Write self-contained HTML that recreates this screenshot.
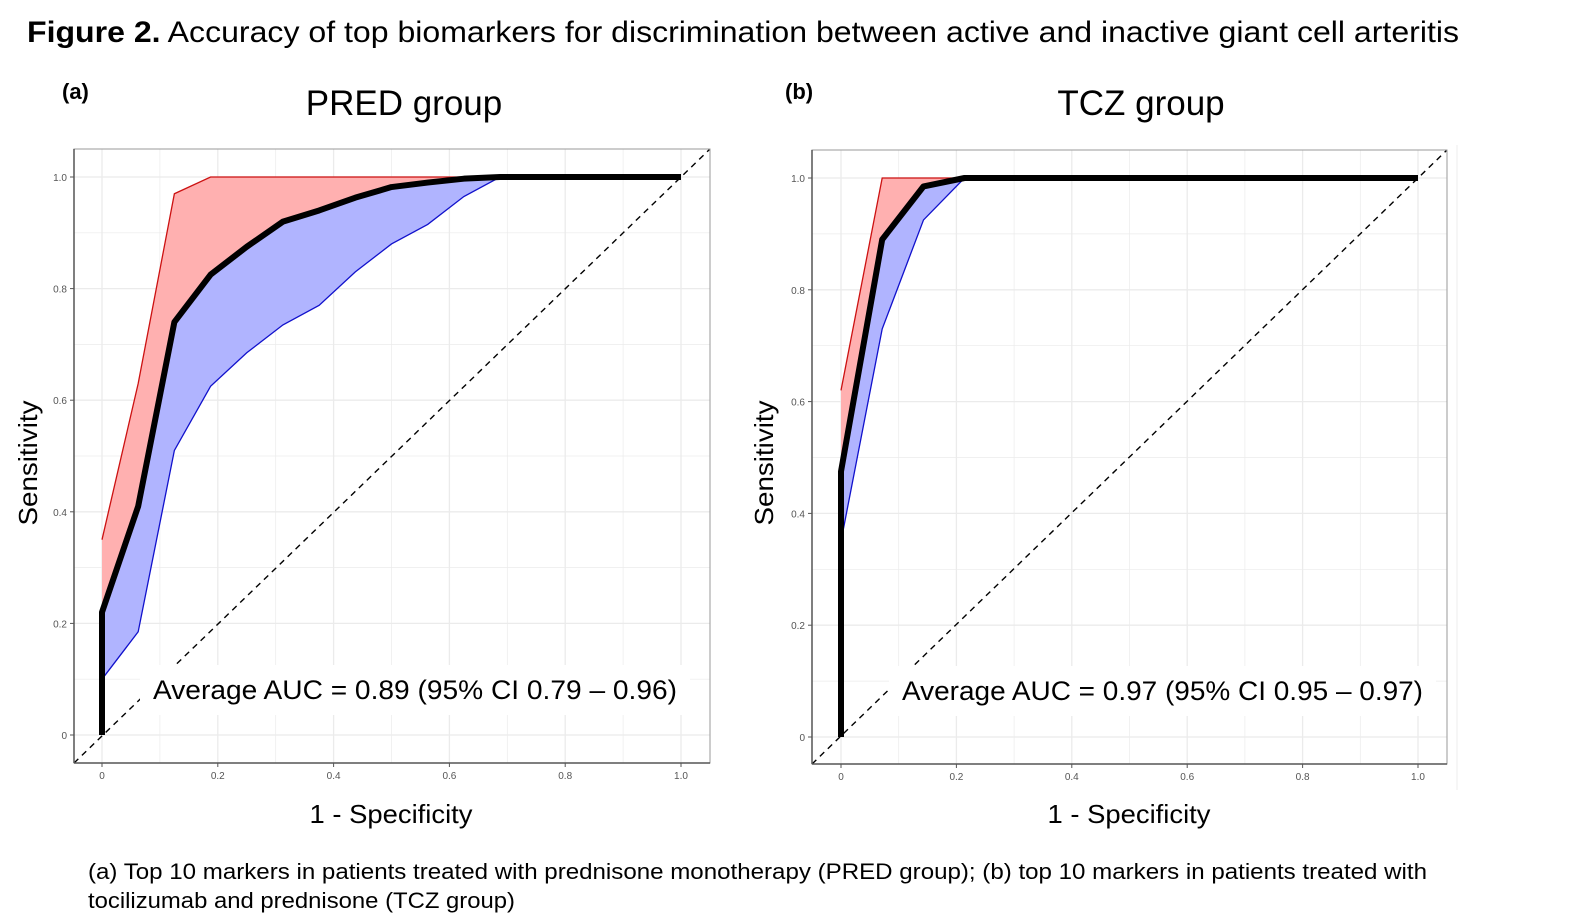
<!DOCTYPE html>
<html><head><meta charset="utf-8"><style>
body{margin:0;background:#fff;}
svg{display:block;font-family:"Liberation Sans",sans-serif;}
</style></head><body>
<svg id="fig" width="1594" height="922" viewBox="0 0 1594 922" xmlns="http://www.w3.org/2000/svg">
<text x="27" y="42" font-size="30" textLength="1432" lengthAdjust="spacingAndGlyphs"><tspan font-weight="bold">Figure 2.</tspan> Accuracy of top biomarkers for discrimination between active and inactive giant cell arteritis</text>
<text x="62" y="99" font-size="22" font-weight="bold">(a)</text>
<text x="785" y="99" font-size="22" font-weight="bold">(b)</text>
<text x="404" y="115" font-size="35" text-anchor="middle">PRED group</text>
<text x="1141" y="115" font-size="35" text-anchor="middle">TCZ group</text>
<text x="88" y="879" font-size="22" textLength="1339" lengthAdjust="spacingAndGlyphs">(a) Top 10 markers in patients treated with prednisone monotherapy (PRED group); (b) top 10 markers in patients treated with</text>
<text x="88" y="908" font-size="22" textLength="427" lengthAdjust="spacingAndGlyphs">tocilizumab and prednisone (TCZ group)</text>
<line x1="1457" y1="145" x2="1457" y2="790" stroke="#eee" stroke-width="1"/>
</svg>
<script>
// Panel A data
const aBlackX=[0,0,0.0625,0.125,0.1875,0.25,0.3125,0.375,0.4375,0.5,0.5625,0.625,0.6875,1];
const aBlackY=[0,0.22,0.41,0.74,0.825,0.875,0.92,0.94,0.963,0.982,0.99,0.997,1,1];
const aUpperX=[0,0.0625,0.125,0.1875,1];
const aUpperY=[0.35,0.63,0.97,1,1];
const aLowerX=[0,0.0625,0.125,0.1875,0.25,0.3125,0.375,0.4375,0.5,0.5625,0.625,0.6875,1];
const aLowerY=[0.1,0.185,0.51,0.625,0.685,0.735,0.77,0.83,0.88,0.915,0.965,1,1];
// Panel B data
const bBlackX=[0,0,0,0.0714,0.143,0.214,1];
const bBlackY=[0,0.35,0.475,0.89,0.985,1,1];
const bUpperX=[0,0.0714,1];
const bUpperY=[0.62,1,1];
const bLowerX=[0,0.0714,0.143,0.214,1];
const bLowerY=[0.35,0.73,0.925,1,1];
const tickVals=[0,0.2,0.4,0.6,0.8,1.0];
const tickLabels=["0","0.2","0.4","0.6","0.8","1.0"];
const aucA="Average AUC = 0.89 (95% CI 0.79 \u2013 0.96)";
const aucB="Average AUC = 0.97 (95% CI 0.95 \u2013 0.97)";

const NS="http://www.w3.org/2000/svg";
const svg=document.getElementById('fig');
function mk(tag,attrs,parent){const e=document.createElementNS(NS,tag);for(const k in attrs)e.setAttribute(k,attrs[k]);(parent||svg).appendChild(e);return e;}

function panel(p){
  const sx=v=>p.x0+v*(p.x1-p.x0);
  const sy=v=>p.y0-v*(p.y0-p.y1);
  const g=mk('g',{});
  
  
  const L=p.bx0,R=p.bx1,T=p.by0,B=p.by1;
  for(let i=0;i<=10;i++){
    const v=i/10;
    const w=(i%2===0)?1.3:0.7;
    const gx=mk('line',{x1:sx(v),x2:sx(v),y1:T,y2:B,stroke:'#ebebeb','stroke-width':w},g);
    
    
    const gy=mk('line',{x1:L,x2:R,y1:sy(v),y2:sy(v),stroke:'#ebebeb','stroke-width':w},g);
    
    
  }
  const pts=(xs,ys)=>xs.map((x,i)=>sx(x)+','+sy(ys[i]));
  const rev=a=>a.slice().reverse();
  const up=mk('polygon',{points:pts(p.ux,p.uy).concat(rev(pts(p.bx,p.by))).join(' '),fill:'#ffb0b0',stroke:'none'},g);
  
  
  const lo=mk('polygon',{points:pts(p.bx,p.by).concat(rev(pts(p.lx,p.ly))).join(' '),fill:'#b0b4ff',stroke:'none'},g);
  
  
  const ul=mk('polyline',{points:pts(p.ux,p.uy).join(' '),fill:'none',stroke:'#cc1111','stroke-width':1.3},g);
  
  
  const ll=mk('polyline',{points:pts(p.lx,p.ly).join(' '),fill:'none',stroke:'#1111cc','stroke-width':1.3},g);
  
  
  const d=mk('line',{x1:L,y1:B,x2:R,y2:T,stroke:'#000','stroke-width':1.4,'stroke-dasharray':'6,5'},g);
  
  
  const bg=mk('rect',{x:p.tx-13,y:p.ty-34,width:p.tw+26,height:50,fill:'#fff'},g);
  
  
  const roc=mk('polyline',{points:pts(p.bx,p.by).join(' '),fill:'none',stroke:'#000','stroke-width':6,'stroke-linejoin':'round'},g);
  
  
  const t=mk('text',{x:p.tx,y:p.ty,'font-size':27,textLength:p.tw,lengthAdjust:'spacingAndGlyphs'},g);
  t.textContent=p.auc;
  
  
  const fr=mk('rect',{x:L,y:T,width:R-L,height:B-T,fill:'none',stroke:'#9a9a9a','stroke-width':1},g);
  
  
  mk('line',{x1:L,y1:T,x2:L,y2:B,stroke:'#555','stroke-width':1.5},g);
  mk('line',{x1:L,y1:B,x2:R,y2:B,stroke:'#555','stroke-width':1.5},g);
  tickVals.forEach((v,i)=>{
    mk('line',{x1:sx(v),x2:sx(v),y1:B,y2:B+4,stroke:'#555'},g);
    const xt=mk('text',{x:sx(v),y:B+16,'font-size':10,fill:'#555','text-anchor':'middle'},g);
    xt.textContent=tickLabels[i];
    
    
    mk('line',{x1:L-4,x2:L,y1:sy(v),y2:sy(v),stroke:'#555'},g);
    const yt=mk('text',{x:L-7,y:sy(v)+4,'font-size':10,fill:'#555','text-anchor':'end'},g);
    yt.textContent=tickLabels[i];
    
    
  });
  const xa=mk('text',{x:p.xcx,y:823,'font-size':26,'text-anchor':'middle',textLength:163,lengthAdjust:'spacingAndGlyphs'},g);
  xa.textContent='1 - Specificity';
  
  
  const ya=mk('text',{x:p.ycx,y:463,'font-size':26,'text-anchor':'middle',transform:'rotate(-90 '+p.ycx+' 463)',textLength:125,lengthAdjust:'spacingAndGlyphs'},g);
  ya.textContent='Sensitivity';
  
  
}
panel({name:'pred',x0:102,x1:681,y0:735,y1:177,bx0:74,bx1:710,by0:149,by1:763,
  bx:aBlackX,by:aBlackY,ux:aUpperX,uy:aUpperY,lx:aLowerX,ly:aLowerY,auc:aucA,tx:153,ty:699,tw:524,xcx:391,ycx:37});
panel({name:'tcz',x0:841,x1:1418,y0:737,y1:178,bx0:812,bx1:1447,by0:150,by1:764,
  bx:bBlackX,by:bBlackY,ux:bUpperX,uy:bUpperY,lx:bLowerX,ly:bLowerY,auc:aucB,tx:902,ty:700,tw:521,xcx:1129,ycx:773});
</script>
</body></html>
